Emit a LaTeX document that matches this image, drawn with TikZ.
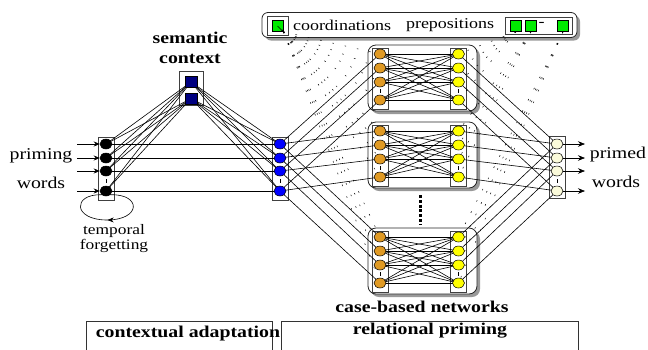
\documentclass[tikz,border=0pt]{standalone}
\usepackage{fontspec}
\setmainfont[FakeStretch=1.2]{Liberation Serif}
\usepackage{tikz}
\definecolor{semblue}{RGB}{0,0,128}
\definecolor{ctxblue}{RGB}{0,0,255}
\definecolor{caseorange}{RGB}{224,154,36}
\definecolor{caseyellow}{RGB}{255,255,0}
\definecolor{outivory}{RGB}{250,250,218}
\definecolor{ctrlgreen}{RGB}{0,235,0}
\usetikzlibrary{arrows.meta,positioning,shapes.geometric,shadows,decorations.markings}
\pgfdeclarelayer{back}
\pgfdeclarelayer{wires}
\pgfsetlayers{back,wires,main}

\begin{document}
\begin{tikzpicture}[x=1pt, y=-1pt,
  unit/.style={ellipse, draw=black, line width=0.5pt, minimum width=12pt, minimum height=10pt, inner sep=0pt},
  semunit/.style={rectangle, draw=black, fill=semblue, minimum width=12pt, minimum height=11pt, inner sep=0pt},
  ctrlunit/.style={rectangle, draw=black, fill=ctrlgreen, minimum width=11pt, minimum height=11pt, inner sep=0pt},
  colbox/.style={draw=black!75, fill=white, line width=0.7pt, minimum width=16pt, inner sep=0pt},
  netbox/.style={draw=black!85, fill=white, line width=0.8pt, rounded corners=8pt, minimum width=109pt, minimum height=66pt, drop shadow={shadow xshift=3pt, shadow yshift=-3pt, fill=black!40, opacity=1}},
  ctrlbox/.style={draw=black!85, fill=white, line width=0.8pt, rounded corners=6pt, minimum width=315pt, minimum height=25pt, drop shadow={shadow xshift=3pt, shadow yshift=-3pt, fill=black!40, opacity=1}},
  wire/.style={black, line width=0.6pt},
  ctrl/.style={black, line width=0.5pt, dash pattern=on 1.6pt off 11pt},
  lbl/.style={font=\fontsize{16.5}{20}\selectfont},
  clbl/.style={font=\fontsize{15}{18}\selectfont},
  slbl/.style={font=\fontsize{14.5}{15}\selectfont, align=center},
  blbl/.style={font=\fontsize{16.5}{20}\selectfont\bfseries, align=center}]
  \useasboundingbox (0,0) rectangle (648,349);

  % boxes behind everything
  \begin{pgfonlayer}{back}
    \foreach \n/\t in {1/54,2/131,3/237} {
      \node[netbox] (net\n) at (422.5,\t+24) {};
      \node[colbox, minimum height=61pt] (netl\n) at (380,\t+24.5) {};
      \node[colbox, minimum height=61pt] (netr\n) at (458.5,\t+24.5) {};
    }
    \node[colbox, minimum height=63pt] (inbox) at (106.5,168.5) {};
    \node[colbox, minimum height=63pt] (ctxbox) at (280,168.5) {};
    \node[colbox, minimum height=62pt] (outbox) at (557,167.5) {};
    \node[colbox, minimum width=24pt, minimum height=34pt] (sembox) at (191,88) {};
    \node[ctrlbox] (ctrl) at (419.5,25) {};
    \node[colbox, minimum width=21pt, minimum height=19pt] (coordbox) at (278,26) {};
    \node[colbox, minimum width=67pt, minimum height=17pt] (prepbox) at (538.5,26) {};
  \end{pgfonlayer}

  % units
  \foreach \i/\y in {1/144,2/158,3/171,4/191} {
    \node[unit, fill=black] (in\i) at (106,\y) {};
    \node[unit, fill=ctxblue] (ctx\i) at (280,\y) {};
    \node[unit, fill=outivory] (out\i) at (557,\y) {};
    \coordinate (src\i) at (77,\y);
    \coordinate (dst\i) at (585,\y);
  }
  \foreach \n/\t in {1/54,2/131,3/237}
    \foreach \i/\d in {1/0,2/14,3/28,4/46} {
      \node[unit, fill=caseorange] (ca\n\i) at (380,\t+\d) {};
      \node[unit, fill=caseyellow] (cb\n\i) at (458.5,\t+\d) {};
    }
  \node[semunit] (sem1) at (191,82) {};
  \node[semunit] (sem2) at (191,98.5) {};

  % control units
  \node[ctrlunit] (coordsq) at (277.5,26) {};
  \node[clbl] (coordlbl) at (342,25) {coordinations};
  \node[clbl] (preplbl) at (450,25) {prepositions};
  \node[ctrlunit] (prep1) at (516,26) {};
  \node[ctrlunit] (prep2) at (531,26) {};
  \node[clbl] (prepdash) at (541.5,24) {-};
  \node[ctrlunit] (prep3) at (563,26) {};

  % connections
  \begin{pgfonlayer}{wires}
    \foreach \i in {1,...,4} {
      \draw[wire] (in\i.center) -- (ctx\i.center);
      \foreach \j in {1,2} {
        \draw[wire] (in\i.center) -- (sem\j.center);
        \draw[wire] (sem\j.center) -- (ctx\i.center);
      }
      \foreach \n in {1,2,3} {
        \draw[wire] (ctx\i.center) -- (ca\n\i.center);
        \draw[wire] (cb\n\i.center) -- (out\i.center);
        \foreach \j in {1,...,4}
          \draw[wire] (ca\n\i.center) -- (cb\n\j.center);
      }
    }
    \foreach \n/\p in {1/prep1,2/prep2,3/prep3}
      \foreach \i in {1,...,4} {
        \draw[ctrl] (coordsq.south east) -- (ca\n\i);
        \draw[ctrl] (\p.south) -- (cb\n\i);
      }
  \end{pgfonlayer}
  \draw[-{Stealth[length=2.5pt]}, thin] (coordsq.center) -- (coordsq.south east);

  % in and out arrows
  \foreach \i in {1,...,4} {
    \draw[wire, -{Stealth[length=6pt, width=5pt]}] (src\i) -- (in\i);
    \draw[wire, -{Stealth[length=7pt, width=5.5pt]}] (out\i) -- (dst\i);
  }

  % temporal forgetting loop
  \draw[wire, postaction={decorate}, decoration={markings, mark=at position 0.5 with {\arrow{Stealth[length=6pt, width=5pt]}}}]
    (in4.south east) .. controls (142,194) and (141,220) .. (107,220) .. controls (73,220) and (72,194) .. (in4.south west);

  % small ellipsis marks
  \foreach \x in {106,280,557} \draw[thin] (\x,179) -- (\x,183);
  \foreach \t in {54,131,237} {
    \draw[thin] (380,\t+35) -- (380,\t+39);
    \draw[thin] (458.5,\t+35) -- (458.5,\t+39);
  }
  \draw[line width=3pt, dash pattern=on 3pt off 1.8pt] (420,195) -- (420,224);

  % labels
  \node[lbl] (priming) at (41,156) {priming};
  \node[lbl] (primingw) at (41,183) {words};
  \node[lbl] (primed) at (618,155) {primed};
  \node[lbl] (primedw) at (616,182) {words};
  \node[slbl] (forget) at (114,239) {temporal\\forgetting};
  \node[blbl] (semlbl) at (190,48) {semantic\\context};
  \node[blbl] (caselbl) at (422,307) {case-based networks};

  % stage boxes
  \draw[black!80, line width=0.7pt] (86,352) |- (272,321) -- (272,352);
  \draw[black!80, line width=0.7pt] (281,352) |- (578,321) -- (578,352);
  \node[blbl] (adaptlbl) at (188,334) {contextual adaptation};
  \node[blbl] (rellbl) at (430,331) {relational priming};
\end{tikzpicture}
\end{document}
